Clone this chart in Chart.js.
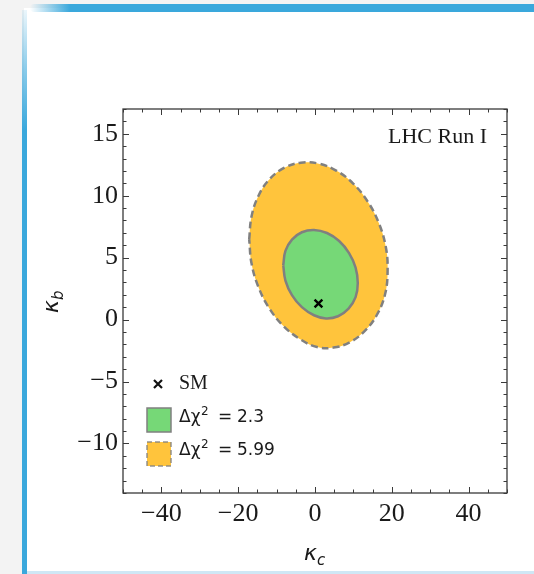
<!DOCTYPE html>
<html><head><meta charset="utf-8">
<script src="https://cdn.jsdelivr.net/npm/chart.js@4/dist/chart.umd.min.js"></script>
<style>
html,body{margin:0;padding:0;background:#f3f3f3;width:534px;height:574px;overflow:hidden;}
#card{position:absolute;left:24px;top:8px;width:510px;height:566px;background:#fff;}
#topbar{position:absolute;left:30px;top:4px;width:504px;height:8px;background:linear-gradient(to right, rgba(58,168,220,0) 0px, #3aa8dc 40px);border-radius:4px 0 0 4px;}
#leftbar{position:absolute;left:22px;top:10px;width:5px;height:564px;background:linear-gradient(to bottom, rgba(58,168,220,0.1) 0px, rgba(58,168,220,0.6) 60px, #3aa8dc 120px);}
#botbar{position:absolute;left:27px;top:571px;width:507px;height:3px;background:#cfe7f5;}
#wrap{position:absolute;left:0;top:0;width:534px;height:574px;}
</style></head>
<body>
<div id="card"></div><div id="topbar"></div><div id="leftbar"></div><div id="botbar"></div>
<div id="wrap"><canvas id="c" width="534" height="574"></canvas></div>
<script>
// ---- data ----
const outerKc = [-17.14, -16.52, -14.71, -11.84, -8.09, -3.73, 0.95, 5.63, 10.00, 13.74, 16.62, 18.43, 18.91, 18.26, 16.17, 13.04, 9.13, 4.83, 0.52, -3.73, -8.09, -11.84, -14.71, -16.52];
const outerKb = [6.47, 8.34, 10.00, 11.33, 12.24, 12.67, 12.59, 12.01, 10.96, 9.52, 7.79, 5.88, 3.97, 2.06, 0.41, -0.89, -1.82, -2.26, -2.22, -1.61, -0.56, 0.88, 2.61, 4.52];
const innerKc = [-8.27, -7.70, -6.00, -3.42, -0.26, 3.13, 6.29, 8.87, 10.57, 11.14, 10.57, 8.74, 6.00, 2.87, -0.26, -3.42, -6.00, -7.70];
const innerKb = [4.39, 5.54, 6.46, 7.05, 7.24, 6.99, 6.34, 5.37, 4.20, 2.96, 1.81, 0.89, 0.27, 0.09, 0.35, 1.00, 1.97, 3.15];
const smKc = [0.9];
const smKb = [1.3];
const xTicks = [-40, -20, 0, 20, 40];
const yTicks = [-10, -5, 0, 5, 10, 15];
const seriesLabels = ['SM', 'Δχ² = 2.3', 'Δχ² = 5.99'];
const legendValues = ['2.3', '5.99'];
const annotation = 'LHC Run I';

const toPts = (xs, ys, close) => { const p = xs.map((x, i) => ({x, y: ys[i]})); if (close) p.push({...p[0]}); return p; };

const GREEN = '#76d877', YELLOW = '#ffc43c', GRAY = '#808080';

const decor = {
  id: 'decor',
  afterDatasetsDraw(chart) {
    const {ctx, chartArea: a, scales: {x, y}} = chart;
    ctx.save();
    ctx.strokeStyle = '#3a3a3a'; ctx.lineWidth = 1.3;
    ctx.strokeRect(a.left, a.top, a.right - a.left, a.bottom - a.top);
    ctx.lineWidth = 1; ctx.beginPath();
    for (let v = -50; v <= 50; v += 5) {
      const p = Math.round(x.getPixelForValue(v)) + 0.5, L = v % 20 === 0 ? 6 : 3.5;
      ctx.moveTo(p, a.bottom); ctx.lineTo(p, a.bottom - L);
      ctx.moveTo(p, a.top); ctx.lineTo(p, a.top + L);
    }
    for (let v = -14; v <= 17; v += 1) {
      const p = Math.round(y.getPixelForValue(v)) + 0.5, L = v % 5 === 0 ? 6 : 3.5;
      ctx.moveTo(a.left, p); ctx.lineTo(a.left + L, p);
      ctx.moveTo(a.right, p); ctx.lineTo(a.right - L, p);
    }
    ctx.stroke();
    ctx.fillStyle = '#1a1a1a';
    ctx.font = '22px "Liberation Serif"'; ctx.textAlign = 'right'; ctx.textBaseline = 'middle';
    ctx.fillText(annotation, a.right - 20, a.top + 28);
    ctx.textAlign = 'left';
    ctx.strokeStyle = '#111'; ctx.lineWidth = 2.2; ctx.beginPath();
    const cx = a.left + 35, cy = a.top + 275;
    ctx.moveTo(cx - 4, cy - 4); ctx.lineTo(cx + 4, cy + 4); ctx.moveTo(cx + 4, cy - 4); ctx.lineTo(cx - 4, cy + 4); ctx.stroke();
    ctx.font = '20px "Liberation Serif"'; ctx.fillText(seriesLabels[0], a.left + 56, cy);
    ctx.fillStyle = GREEN; ctx.fillRect(a.left + 24, a.top + 299, 24, 24);
    ctx.strokeStyle = GRAY; ctx.lineWidth = 1.5; ctx.strokeRect(a.left + 24, a.top + 299, 24, 24);
    ctx.fillStyle = YELLOW; ctx.fillRect(a.left + 24, a.top + 333, 24, 24);
    ctx.setLineDash([5, 3]); ctx.strokeStyle = 'rgba(128,128,128,0.85)'; ctx.strokeRect(a.left + 24, a.top + 333, 24, 24); ctx.setLineDash([]);
    ctx.fillStyle = '#1a1a1a';
    [a.top + 309, a.top + 342].forEach((ty, i) => {
      const lx = a.left + 56;
      ctx.font = '17px "DejaVu Sans"'; ctx.fillText('Δχ', lx, ty);
      const w = ctx.measureText('Δχ').width;
      ctx.font = '12px "DejaVu Sans"'; ctx.fillText('2', lx + w + 0.5, ty - 6);
      ctx.font = '17px "DejaVu Sans"'; ctx.fillText('=', lx + 39, ty);
      ctx.fillText(legendValues[i], lx + 58, ty);
    });
    ctx.font = 'italic 22px "DejaVu Sans"';
    ctx.textBaseline = 'alphabetic';
    const mx = (a.left + a.right) / 2;
    ctx.fillText('κ', mx - 11, 560);
    ctx.font = 'italic 15px "DejaVu Sans"'; ctx.fillText('c', mx + 2, 565);
    ctx.save(); ctx.translate(58, (a.top + a.bottom) / 2 + 1); ctx.rotate(-Math.PI / 2);
    ctx.font = 'italic 22px "DejaVu Sans"'; ctx.fillText('κ', -11, 0);
    ctx.font = 'italic 15px "DejaVu Sans"'; ctx.fillText('b', 2, 5);
    ctx.restore();
    ctx.restore();
  }
};

new Chart(document.getElementById('c'), {
  type: 'scatter',
  data: {
    datasets: [
      { label: seriesLabels[0], data: toPts(smKc, smKb, false), order: 0, pointStyle: 'crossRot', pointRadius: 5.5, borderColor: '#000', borderWidth: 2.4, backgroundColor: '#000' },
      { label: seriesLabels[1], data: toPts(innerKc, innerKb, true), order: 1, showLine: true, tension: 0.4, pointRadius: 0, borderColor: GRAY, borderWidth: 2.5, backgroundColor: GREEN, fill: 'shape' },
      { label: seriesLabels[2], data: toPts(outerKc, outerKb, true), order: 2, showLine: true, tension: 0.4, pointRadius: 0, borderColor: GRAY, borderWidth: 2.5, borderDash: [7, 4], backgroundColor: YELLOW, fill: 'shape' }
    ]
  },
  options: {
    responsive: false, animation: false, devicePixelRatio: 1,
    layout: { padding: { left: 0, top: 109, right: 27, bottom: 0 } },
    plugins: { legend: { display: false }, tooltip: { enabled: false } },
    scales: {
      x: { type: 'linear', min: -50, max: 50,
        afterBuildTicks: s => { s.ticks = xTicks.map(v => ({value: v})); },
        afterFit: s => { s.height = 81; },
        grid: { display: false, drawTicks: false }, border: { display: false },
        ticks: { padding: 6, color: '#1a1a1a', font: { family: 'Liberation Serif', size: 26 }, callback: v => String(v).replace('-', '−') } },
      y: { type: 'linear', min: -14, max: 17,
        afterBuildTicks: s => { s.ticks = yTicks.map(v => ({value: v})); },
        afterFit: s => { s.width = 123; },
        grid: { display: false, drawTicks: false }, border: { display: false },
        ticks: { padding: 5, color: '#1a1a1a', font: { family: 'Liberation Serif', size: 26 }, callback: v => String(v).replace('-', '−') } }
    }
  },
  plugins: [decor]
});
</script>
</body></html>
